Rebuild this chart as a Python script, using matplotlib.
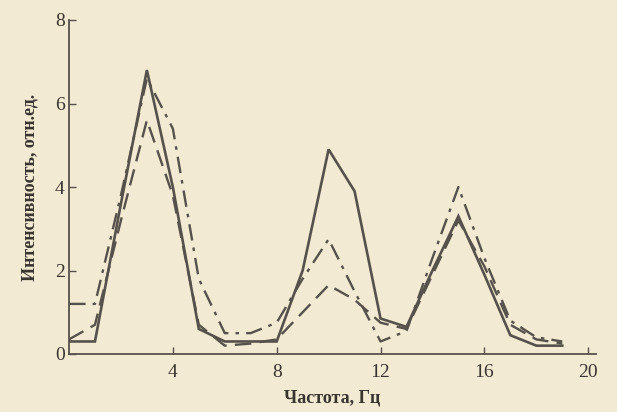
import matplotlib.pyplot as plt

# частота, Гц
freq = list(range(20))

# три кривые интенсивности
solid = [0.3, 0.3, 3.6, 6.8, 4.0, 0.6, 0.3, 0.3, 0.3, 2.0,
         4.9, 3.9, 0.85, 0.65, 2.0, 3.3, 1.9, 0.45, 0.2, 0.2]
dashed = [0.35, 0.7, 3.2, 5.6, 3.8, 0.7, 0.2, 0.25, 0.35, 1.0,
          1.65, 1.3, 0.75, 0.6, 1.9, 3.2, 2.1, 0.7, 0.35, 0.25]
dashdot = [1.2, 1.2, 3.8, 6.6, 5.4, 1.8, 0.5, 0.5, 0.75, 1.8,
           2.75, 1.5, 0.3, 0.55, 2.3, 4.0, 2.3, 0.8, 0.4, 0.3]

xticks = [4, 8, 12, 16, 20]
yticks = [0, 2, 4, 6, 8]

bg = '#f3ead3'
ink = '#57514b'
txt = '#3a342f'

plt.rcParams['font.family'] = ['Liberation Serif', 'DejaVu Serif']

fig = plt.figure(figsize=(6.17, 4.12), dpi=100, facecolor=bg)
ax = fig.add_axes([69 / 617, 58 / 412, 527 / 617, 334 / 412])
ax.set_facecolor(bg)

ax.plot(freq, solid, color=ink, lw=1.9, solid_joinstyle='miter')
ax.plot(freq, dashed, color=ink, lw=1.7, dashes=(7, 3.5))
ax.plot(freq, dashdot, color=ink, lw=1.7, dashes=(7, 3, 1.5, 3))

ax.set_xlim(0, 20.3)
ax.set_ylim(0, 8)

for s in ['top', 'right']:
    ax.spines[s].set_visible(False)
for s in ['left', 'bottom']:
    ax.spines[s].set_color(ink)
    ax.spines[s].set_linewidth(1.3)

ax.set_xticks(xticks)
ax.set_yticks(yticks)
ax.tick_params(direction='in', length=5, width=1, color=ink,
               labelsize=14, labelcolor=txt)
ax.tick_params(axis='x', pad=7)
ax.tick_params(axis='y', pad=3)

ax.set_xlabel('Частота, Гц', fontsize=13, fontweight='bold', color=txt, labelpad=6)
ax.set_ylabel('Интенсивность, отн.ед.', fontsize=13, fontweight='bold', color=txt, labelpad=12)

plt.savefig('out.png', dpi=100, facecolor=bg)
